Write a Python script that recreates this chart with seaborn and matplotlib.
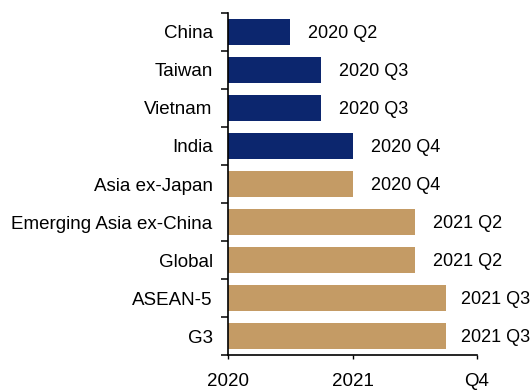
import matplotlib
matplotlib.use("Agg")
import matplotlib.pyplot as plt
import seaborn as sns
import pandas as pd

# Economies and the quarter in which output returns to its pre-crisis level
economies = ["China", "Taiwan", "Vietnam", "India", "Asia ex-Japan",
             "Emerging Asia ex-China", "Global", "ASEAN-5", "G3"]
recovery_quarter = ["2020 Q2", "2020 Q3", "2020 Q3", "2020 Q4", "2020 Q4",
                    "2021 Q2", "2021 Q2", "2021 Q3", "2021 Q3"]
group = ["country", "country", "country", "country", "region",
         "region", "region", "region", "region"]

base_year = 2020
tick_positions = [0, 1, 2]
tick_labels = ["2020", "2021", "Q4"]


def quarter_end(label):
    year, q = label.split()
    return int(year) - base_year + int(q[1]) / 4


df = pd.DataFrame({
    "economy": economies,
    "quarter": recovery_quarter,
    "years": [quarter_end(q) for q in recovery_quarter],
    "group": group,
})

sns.set_style("white")
plt.rcParams["font.family"] = ["Liberation Sans", "DejaVu Sans"]

fig = plt.figure(figsize=(5.31, 3.90), dpi=100)
ax = fig.add_axes([0.4294, 0.0897, 0.4689, 0.877])

palette = {"country": "#0C266E", "region": "#C49B65"}
sns.barplot(data=df, x="years", y="economy", hue="group", palette=palette,
            orient="h", width=0.66, dodge=False, legend=False, ax=ax,
            saturation=1, edgecolor="none")

labels = []
for i, row in df.iterrows():
    t = ax.annotate(row["quarter"], xy=(row["years"], i), xytext=(13, -1),
                    textcoords="offset points", va="center", ha="left",
                    fontsize=13, color="black", annotation_clip=False)
    labels.append(t)

ax.set_xlim(0, 2)
ax.set_ylim(len(economies) - 0.5, -0.5)
ax.set_xticks(tick_positions)
ax.set_xticklabels(tick_labels, fontsize=13.5, color="black")
ax.set_yticks(range(len(economies)))
ax.set_yticklabels(economies, fontsize=13.5, color="black")
ax.set_xlabel("")
ax.set_ylabel("")

# category boundaries carry the y tick marks
ax.set_yticks([i - 0.5 for i in range(len(economies) + 1)], minor=True)
ax.tick_params(axis="y", which="major", length=0, pad=11)
ax.tick_params(axis="y", which="minor", length=5, width=1.1, color="black",
               direction="out", left=True)
ax.tick_params(axis="x", which="major", length=3, width=1, color="black",
               direction="out", bottom=True, pad=10)

for side in ["top", "right"]:
    ax.spines[side].set_visible(False)
for side in ["left", "bottom"]:
    ax.spines[side].set_color("black")
    ax.spines[side].set_linewidth(1.2)

# pull value labels back inside the figure where they would run past its edge
fig.canvas.draw()
renderer = fig.canvas.get_renderer()
fig_w = fig.bbox.width
for t in labels:
    bb = t.get_window_extent(renderer)
    overflow = bb.x1 - (fig_w - 1)
    if overflow > 0:
        dx_pt = overflow * 72 / fig.dpi
        x_off, y_off = t.xyann
        t.xyann = (x_off - dx_pt, y_off)

fig.savefig("out.png", dpi=100)
